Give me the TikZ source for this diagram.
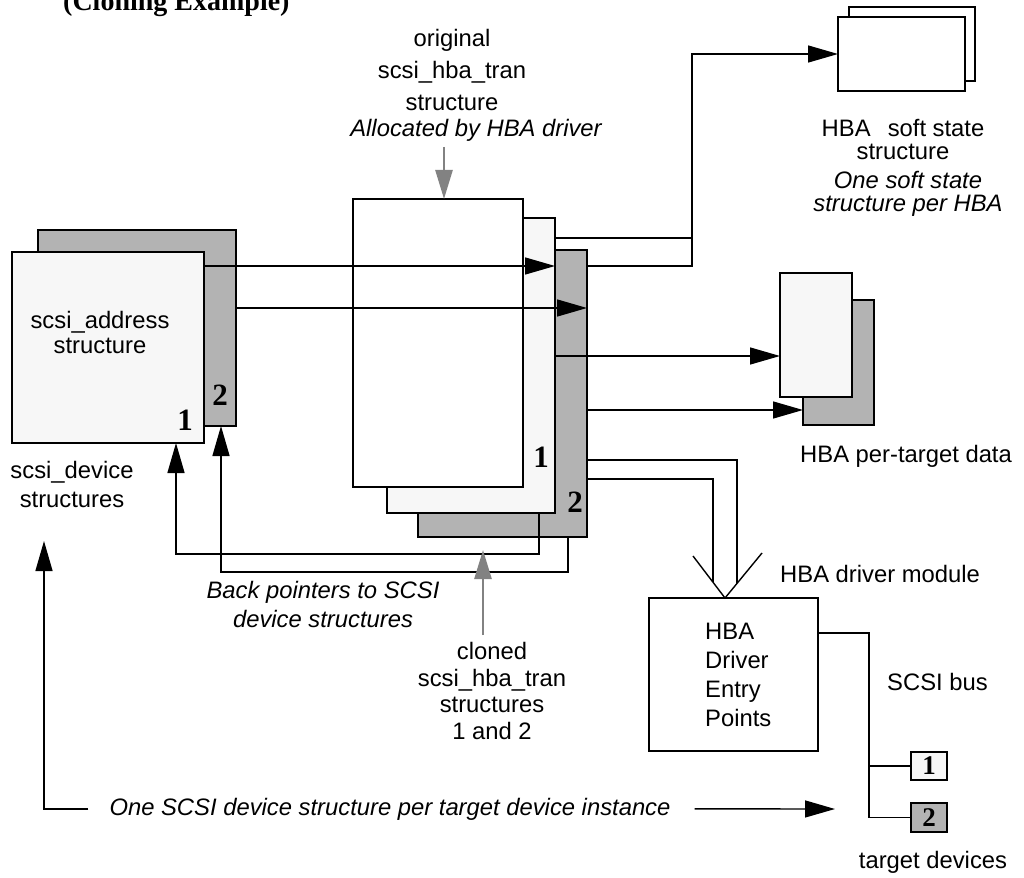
\documentclass[tikz,border=0pt]{standalone}
\usepackage{fontspec}
\setmainfont{Liberation Sans}
\newfontfamily\numfont{Liberation Serif}
\usetikzlibrary{arrows.meta}

\definecolor{paper}{HTML}{F7F7F7}
\definecolor{shade}{HTML}{B3B3B3}
\definecolor{pointer}{HTML}{828282}

\tikzset{
  box/.style={draw, line width=1.4pt, inner sep=0pt, outer sep=0pt, anchor=north west},
  txt/.style={font=\fontsize{23.8}{#1}\selectfont, inner sep=0pt, align=center},
  txt/.default=29,
  num/.style={font=\numfont\bfseries\fontsize{31}{31}\selectfont, inner sep=0pt, anchor=base},
  wire/.style={line width=1.4pt},
  ptr/.style={wire, -{Triangle[length=30pt,width=17pt]}},
  grayptr/.style={line width=2.6pt, pointer, -{Triangle[length=29pt,width=17pt]}}
}

\begin{document}
\begin{tikzpicture}[x=1pt,y=-1pt]
\useasboundingbox (0,0) rectangle (1024,877);

\node[num, anchor=base west, font=\numfont\bfseries\fontsize{28}{28}\selectfont] (title) at (63,11) {(Cloning Example)};

% scsi_device structures
\node[box, fill=shade, minimum width=198, minimum height=196] (dev2) at (38,230) {};
\node[box, fill=paper, minimum width=192, minimum height=191] (dev1) at (12,252) {};
\node[txt=25] (addr) at (100,332) {scsi\_address\\structure};
\node[num] (dev1num) at (185,430) {1};
\node[num] (dev2num) at (220,405) {2};
\node[txt=29] (devlbl) at (72,484) {scsi\_device\\structures};

% scsi_hba_tran structures
\node[box, fill=shade, minimum width=169, minimum height=287] (tran2) at (418,250) {};
\node[box, fill=paper, minimum width=168, minimum height=295] (tran1) at (387,218) {};
\node[box, fill=white, minimum width=170, minimum height=288] (tran0) at (353,199) {};
\node[num] (tran1num) at (541,467) {1};
\node[num] (tran2num) at (575,512) {2};
\node[txt=32] (orig) at (452,70) {original\\scsi\_hba\_tran\\structure};
\node[txt, anchor=base] (alloc) at (476,137) {\itshape Allocated by HBA driver};
\node[txt=26.5] (cloned) at (492,691) {cloned\\scsi\_hba\_tran\\structures\\1 and 2};
\node[txt=29] (backlbl) at (323,604) {\itshape Back pointers to SCSI\\\itshape device structures};

% soft state
\node[box, fill=white, minimum width=126, minimum height=74] (soft2) at (849,7) {};
\node[box, fill=white, minimum width=127, minimum height=74] (soft1) at (838,17) {};
\node[txt=23] (softlbl) at (903,140) {HBA\hspace{0.72em}soft state\\structure};
\node[txt=23] (softnote) at (908,194) {\itshape One soft state\\\itshape structure per HBA};

% per-target data
\node[box, fill=shade, minimum width=71, minimum height=125] (tgt2) at (803,300) {};
\node[box, fill=paper, minimum width=72, minimum height=124] (tgt1) at (780,273) {};
\node[txt, anchor=base west] (tgtlbl) at (800,462) {HBA per-target data};

% driver module and bus
\node[box, fill=white, minimum width=169, minimum height=153] (drv) at (649,598) {};
\node[txt, align=left, anchor=west] (entry) at (705,675) {HBA\\Driver\\Entry\\Points};
\node[txt, anchor=base west] (modlbl) at (780,582) {HBA driver module};
\node[txt, anchor=base west] (buslbl) at (887,690) {SCSI bus};
\node[box, fill=paper, minimum width=36, minimum height=28, font=\numfont\bfseries\fontsize{27}{27}\selectfont] (dsk1) at (911,752) {1};
\node[box, fill=shade, minimum width=36, minimum height=29, font=\numfont\bfseries\fontsize{27}{27}\selectfont] (dsk2) at (911,803) {2};
\node[txt, anchor=base] (dsklbl) at (933,868) {target devices};
\node[txt, anchor=base] (onedev) at (390,815) {\itshape One SCSI device structure per target device instance};

% forward pointers
\coordinate (a1) at ([yshift=-14]dev1.north east);
\coordinate (a2) at ([yshift=-78]dev2.north east);
\draw[ptr] (a1) -- (a1 -| tran1.east);
\draw[ptr] (a2) -- (a2 -| tran2.east);

\draw[wire] ([yshift=-20]tran1.north east) -| ([xshift=105]tran2.north east);
\draw[ptr] ([yshift=-16]tran2.north east) -| ([xshift=105]tran2.north east) |- (soft1.west);

\coordinate (t1out) at ([yshift=-138]tran1.north east);
\coordinate (t2out) at ([yshift=-160]tran2.north east);
\draw[ptr] (t1out) -- (t1out -| tgt1.west);
\draw[ptr] (t2out) -- (t2out -| tgt2.west);

% entry points
\coordinate (vtip) at ([xshift=-8.5]drv.north);
\draw[wire] ([shift={(-32,-42)}]vtip) -- (vtip) -- ++(37,-45);
\draw[wire] ([yshift=-210]tran2.north east) -| ([shift={(12,-14.6)}]vtip);
\draw[wire] ([yshift=-229]tran2.north east) -| ([shift={(-12,-15.75)}]vtip);

% SCSI bus
\draw[wire] ([yshift=-35]drv.north east) -- ++(51,0) |- (dsk2.west);
\draw[wire] (dsk1.west) -- ++(-42,0);

% back pointers
\draw[ptr] ([xshift=-16]tran1.south east) -- ++(0,41) -| ([xshift=164]dev1.south west);
\draw[ptr] ([xshift=-19]tran2.south east) -- ++(0,35) -| ([xshift=183]dev2.south west);

% gray pointers
\coordinate (allocTip) at ([xshift=6]tran0.north);
\coordinate (cloneTip) at ([xshift=65,yshift=-13]tran2.south west);
\draw[grayptr] ([yshift=52]allocTip) -- (allocTip);
\draw[grayptr] ([yshift=-85]cloneTip) -- (cloneTip);

% one per target
\coordinate (devTip) at (44,541);
\coordinate (tgtTip) at (835,809);
\draw[ptr] ([xshift=-21]onedev.west) -| (devTip);
\draw[ptr] ([xshift=24]onedev.east) -- (tgtTip);

\end{tikzpicture}
\end{document}
